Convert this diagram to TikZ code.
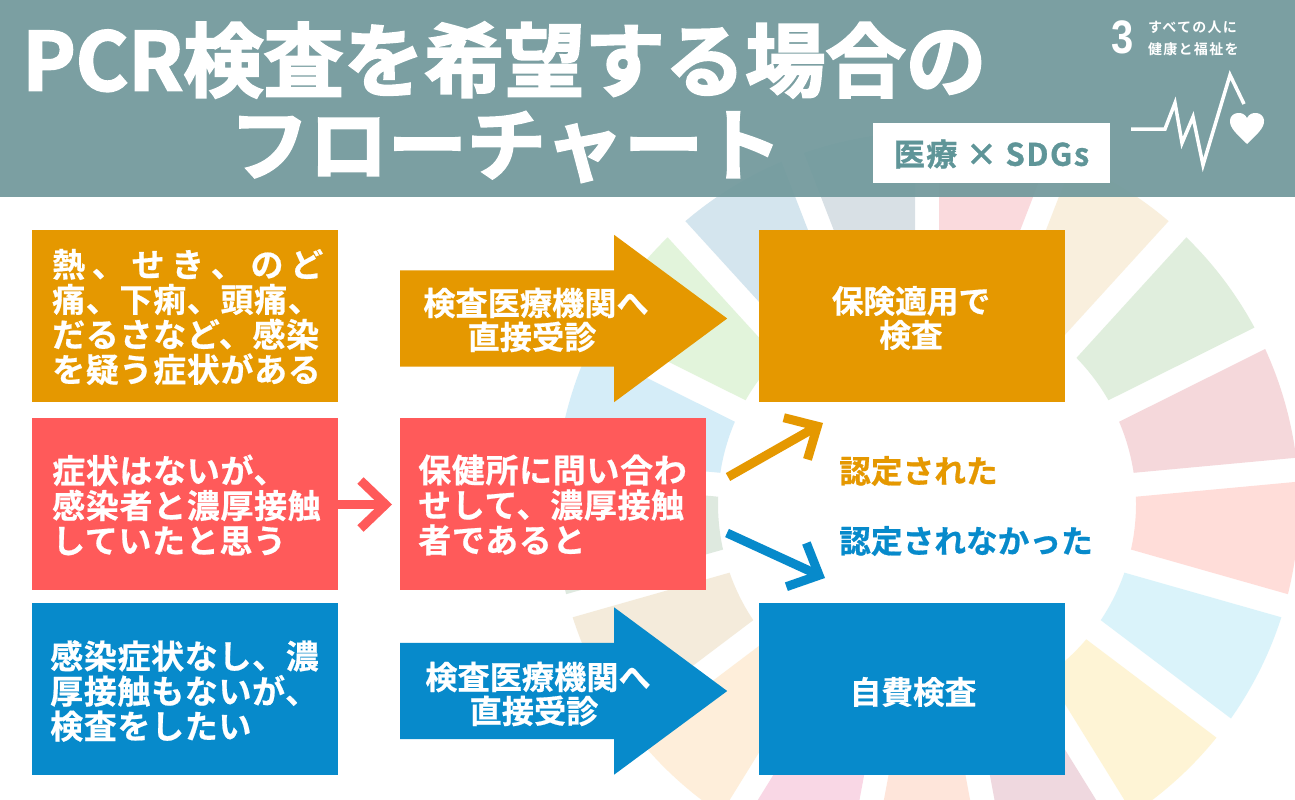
\documentclass[tikz,border=0pt]{standalone}
\usepackage{fontspec}
\usetikzlibrary{arrows.meta,shapes.arrows}
\setmainfont{Noto Sans CJK JP}[BoldFont={* Bold}]
\newfontfamily\jp{Noto Sans CJK JP Bold}[LetterSpace=2,FakeBold=.6]
\newfontfamily\jptight{Noto Sans CJK JP Bold}[FakeBold=.6]
\newfontfamily\jptitle{Noto Sans CJK JP Bold}[FakeBold=2.5]
\newfontfamily\jptag{Noto Sans CJK JP Bold}[LetterSpace=5,FakeBold=1]
\newfontfamily\jpsmall{Noto Sans CJK JP Bold}[LetterSpace=9]
\newfontfamily\numf{Liberation Sans Bold}
\definecolor{bannerc}{HTML}{739A9D}
\definecolor{orangec}{HTML}{E59800}
\definecolor{redc}{HTML}{FF5A5A}
\definecolor{bluec}{HTML}{078ACB}
\definecolor{tagc}{HTML}{5F9598}
\tikzset{
  box/.style={inner sep=0pt,minimum width=306pt,minimum height=172pt},
  body/.style={font=\jp\fontsize{33}{35}\selectfont,text=white,inner sep=0pt},
  tightbody/.style={font=\jptight\fontsize{31.7}{34}\selectfont,text=white,inner sep=0pt},
  arrowbody/.style={font=\jptight\fontsize{32.2}{34}\selectfont,text=white,inner sep=0pt},
  goalline/.style={font=\jpsmall\fontsize{14}{14}\selectfont,text=white,inner sep=0pt,anchor=west},
  blockarrow/.style={single arrow,inner xsep=0pt,inner ysep=48pt,minimum height=327pt,minimum width=167pt,
    single arrow head extend=35.5pt,single arrow tip angle=73,shape border rotate=0,anchor=tail},
  thick arrow/.style={line width=9pt,-{Straight Barb[length=25pt,width=48pt,line width=9pt]},line cap=butt},
  seg/.style={fill opacity=.17}
}
\newcommand{\fitline}[1]{\hbox to 271pt{#1}}
\begin{document}
\begin{tikzpicture}[x=1pt,y=-1pt]
\useasboundingbox (0,0) rectangle (1295,800);
\fill[white] (0,0) rectangle (1295,800);
% SDG wheel
\begin{scope}[shift={(927,504)},y=1pt]
\foreach \i/\c in {0/E5243B,1/DDA63A,2/4C9F38,3/C5192D,4/FF3A21,5/26BDE2,6/FCC30B,7/A21942,8/FD6925,9/DD1367,10/FD9D24,11/BF8B2E,12/3F7E44,13/0A97D9,14/56C02B,15/00689D,16/19486A}{
  \definecolor{wc}{HTML}{\c}
  \pgfmathsetmacro{\aa}{90-21.1765*\i}
  \pgfmathsetmacro{\ab}{90-21.1765*(\i+1)}
  \pgfmathsetmacro{\oo}{asin(12/372)}
  \pgfmathsetmacro{\ii}{asin(12/209)}
  \fill[seg,wc] (\aa-\oo:372) arc[start angle=\aa-\oo,end angle=\ab+\oo,radius=372]
     -- (\ab+\ii:209) arc[start angle=\ab+\ii,end angle=\aa-\ii,radius=209] -- cycle;
}
\end{scope}
% banner
\fill[bannerc,fill opacity=.94] (0,0) rectangle (1295,197);
\node[font=\jptitle\fontsize{80.3}{80}\selectfont,text=white,inner sep=0pt,anchor=west] (title1) at (22,60) {PCR検査を希望する場合の};
\node[font=\jptitle\fontsize{79}{79}\selectfont,text=white,inner sep=0pt] (title2) at (506,147) {フローチャート};
\node[fill=white,inner sep=0pt,minimum width=237pt,minimum height=60pt] (tag) at (991.5,153) {};
\node[font=\jptag\fontsize{31}{31}\selectfont,text=tagc,inner sep=0pt] (tagtext) at (991.5,154) {医療 × SDGs};
\node[font=\numf,text=white,inner sep=0pt,xscale=.85] (goalnum) at (1123,37) {\fontsize{47}{47}\selectfont 3};
\node[goalline] (goaltext1) at (1148,27) {すべての人に};
\node[goalline] (goaltext2) at (1148,49) {健康と福祉を};
\coordinate (ecgstart) at (1131,129);
\draw[white,line width=3.5pt,line join=miter] (ecgstart) -- (1165,129) -- (1175,103) -- (1182,143) -- (1193,117) -- (1203,165) -- (1230,75) -- (1244,104);
\fill[white] (1247,144) .. controls (1238,135) and (1229,128) .. (1230,120) .. controls (1231,112) and (1243,110) .. (1247,118) .. controls (1251,110) and (1263,112) .. (1264,120) .. controls (1265,128) and (1256,135) .. (1247,144) -- cycle;
% boxes
\node[box,fill=orangec] (b1) at (185,316) {};
\node[box,fill=redc] (b2) at (185,503.5) {};
\node[box,fill=bluec] (b3) at (185,689) {};
\node[box,fill=redc] (m2) at (553,503.5) {};
\node[box,fill=orangec] (r1) at (912,316) {};
\node[box,fill=bluec] (r3) at (912,689) {};
\node[blockarrow,fill=orangec] (a1) at (400,318.5) {};
\node[blockarrow,fill=bluec] (a3) at (400,691) {};
% texts
\node[body,align=left,anchor=west] (t1) at (52,317) {\fitline{熱\hss 、\hss せ\hss き\hss 、\hss の\hss ど}\\痛、下痢、頭痛、\\だるさなど、感染\\を疑う症状がある};
\node[body,align=left,anchor=west] (t2) at (52,505) {症状はないが、\\感染者と濃厚接触\\していたと思う};
\node[body,align=left,anchor=west] (t3) at (50,691) {感染症状なし、濃\\厚接触もないが、\\検査をしたい};
\node[body,align=left,anchor=west] (t4) at (418,505) {保健所に問い合わ\\せして、濃厚接触\\者であると};
\node[arrowbody,align=center] (t5) at (536,320) {検査医療機関へ\\直接受診\hspace*{8pt}};
\node[arrowbody,align=center] (t6) at (538,694) {検査医療機関へ\\直接受診\hspace*{8pt}};
\node[tightbody,align=center] (t7) at (911,318) {保険適用で\\検査};
\node[tightbody] (t8) at (913,692) {自費検査};
\node[tightbody,text=orangec,anchor=west] (l1) at (839,471) {認定された};
\node[tightbody,text=bluec,anchor=west] (l2) at (839,541) {認定されなかった};
% connectors
\coordinate (g1) at (823,423);
\coordinate (g2) at (825,578);
\coordinate (s1) at (728,477);
\coordinate (s2) at (727,533);
\draw[thick arrow,redc] (b2.east) ++(0,1) -- (392,504.5);
\draw[thick arrow,orangec] (s1) -- (g1);
\draw[thick arrow,bluec] (s2) -- (g2);
\end{tikzpicture}
\end{document}
